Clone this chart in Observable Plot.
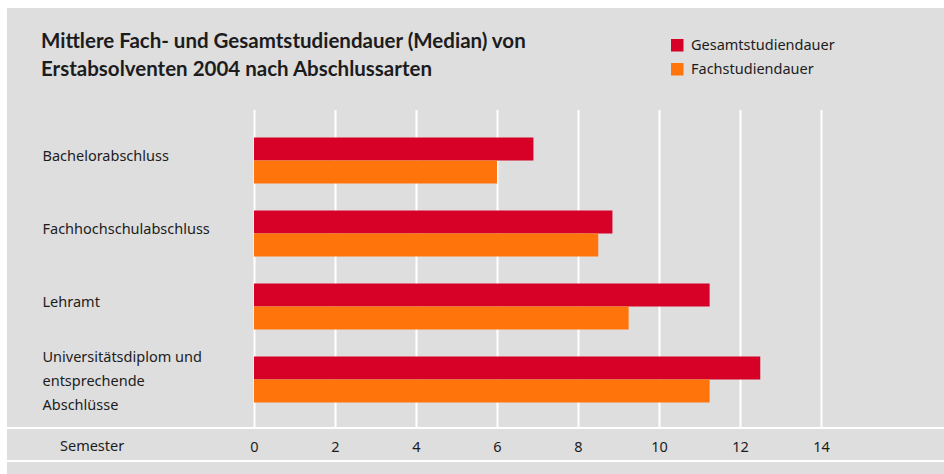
<!DOCTYPE html>
<html><head><meta charset="utf-8">
<script src="https://cdn.jsdelivr.net/npm/d3@7"></script>
<script src="https://cdn.jsdelivr.net/npm/@observablehq/plot@0.6"></script>
<style>
html,body{margin:0;padding:0;background:#fff;}
#wrap{position:relative;width:944px;height:474px;overflow:hidden;}
#panel{position:absolute;left:7px;top:8px;width:937px;height:466px;background:#dedede;}
.hline{position:absolute;left:7px;width:937px;height:2px;background:#fff;}
#chart{position:absolute;left:0;top:0;}
#overlay{position:absolute;left:0;top:0;}
</style></head><body>
<div id="wrap">
<div id="panel"></div>
<div id="chart"></div>
<div class="hline" style="top:427px"></div>
<div class="hline" style="top:459.5px"></div>
<svg id="overlay" width="944" height="474"></svg>
</div>
<script>
const titleLines = ["Mittlere Fach- und Gesamtstudiendauer (Median) von", "Erstabsolventen 2004 nach Abschlussarten"];
const categories = ["Bachelorabschluss", "Fachhochschulabschluss", "Lehramt", "Universitätsdiplom und\nentsprechende\nAbschlüsse"];
const seriesNames = ["Gesamtstudiendauer", "Fachstudiendauer"];
const gesamt = [6.9, 8.85, 11.25, 12.5];
const fach = [6.0, 8.5, 9.25, 11.25];
const xTicks = [0, 2, 4, 6, 8, 10, 12, 14];
const axisLabel = "Semester";
const colors = ["#d70026", "#ff740b"];

const rowsG = categories.map((c, i) => ({category: c, value: gesamt[i]}));
const rowsF = categories.map((c, i) => ({category: c, value: fach[i]}));

const textColor = "#1c1c1c";
const bodyFont = "'Noto Sans', sans-serif";

const chart = Plot.plot({
  width: 944, height: 474,
  marginTop: 110, marginBottom: 47, marginLeft: 254, marginRight: 123,
  style: {background: "transparent", fontFamily: bodyFont, fontSize: "14.5px", color: textColor, overflow: "visible"},
  x: {domain: [0, 14], ticks: xTicks, tickSize: 0, tickPadding: 14, label: null, tickFormat: d => String(d)},
  y: {domain: categories, range: [123.5, 415.5], padding: 0, axis: null},
  marks: [
    Plot.ruleX(xTicks, {x: d => d, stroke: "#fff", strokeWidth: 2}),
    Plot.barX(rowsG, {x: "value", y: "category", fill: colors[0], insetTop: 13.5, insetBottom: 36.5}),
    Plot.barX(rowsF, {x: "value", y: "category", fill: colors[1], insetTop: 36.5, insetBottom: 13.5}),
    Plot.text(categories.filter(c => !c.includes("\n")), {y: d => d, text: d => d, frameAnchor: "left", textAnchor: "start", dx: -212, lineAnchor: "bottom", fill: textColor}),
    Plot.text(categories.filter(c => c.includes("\n")), {y: d => d, text: d => d, frameAnchor: "left", textAnchor: "start", dx: -212, dy: -1.5, lineAnchor: "middle", lineHeight: 24 / 14.5, fill: textColor})
  ]
});
document.getElementById("chart").appendChild(chart);

const ov = d3.select("#overlay");
ov.selectAll("text.title").data(titleLines).join("text")
  .attr("class", "title")
  .attr("x", 41).attr("y", (d, i) => 48 + i * 28)
  .attr("font-family", "Lato, sans-serif").attr("font-weight", 700).attr("font-size", 20.5)
  .attr("fill", textColor).text(d => d);
const lg = ov.selectAll("g.lg").data(seriesNames).join("g").attr("class", "lg")
  .attr("transform", (d, i) => `translate(671,${39 + i * 24})`);
lg.append("rect").attr("width", 12.5).attr("height", 12.5).attr("fill", (d, i) => colors[i]);
lg.append("text").attr("x", 20).attr("y", 11).attr("font-family", bodyFont).attr("font-size", 14.5)
  .attr("fill", textColor).text(d => d);
ov.append("text").attr("x", 60).attr("y", 451).attr("font-family", bodyFont).attr("font-size", 14.5)
  .attr("fill", textColor).text(axisLabel);
</script>
</body></html>
